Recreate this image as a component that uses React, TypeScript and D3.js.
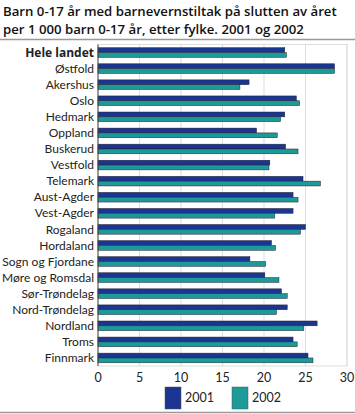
import React from "react";
import * as d3 from "d3";

const categories = ["Hele landet","Østfold","Akershus","Oslo","Hedmark","Oppland","Buskerud","Vestfold","Telemark","Aust-Agder","Vest-Agder","Rogaland","Hordaland","Sogn og Fjordane","Møre og Romsdal","Sør-Trøndelag","Nord-Trøndelag","Nordland","Troms","Finnmark"];
const v2001 = [22.5,28.5,18.2,23.9,22.5,19.1,22.6,20.7,24.7,23.5,23.5,25.0,20.9,18.3,20.1,22.1,22.8,26.4,23.5,25.3];
const v2002 = [22.7,28.5,17.1,24.3,22.0,21.6,24.1,20.6,26.8,24.1,21.3,24.4,21.4,20.2,21.8,22.8,21.5,24.8,24.0,25.9];
const seriesNames = ["2001","2002"];
const colors = ["#1b3593","#1c9a97"];
const xTicks = [0,5,10,15,20,25,30];

export default function App() {
  const W = 355, H = 414;
  const left = 98, right = 347, top = 44.5, bottom = 366;
  const x = d3.scaleLinear().domain([0,30]).range([left,right]);
  const y = d3.scaleBand<string>().domain(categories).range([top,bottom]).paddingInner(0.4).paddingOuter(0.2);
  const sub = d3.scaleBand<string>().domain(seriesNames).range([0,y.bandwidth()]);
  const font = "'Open Sans', sans-serif";
  const lab = "Lato, sans-serif";
  const series = [v2001, v2002];
  return (
    <svg width={W} height={H} style={{position:"absolute",left:0,top:0}} fontFamily={font}>
      <rect width={W} height={H} fill="#fff"/>
      <text x={3} y={16} fontSize={13.2} fontWeight={600} fill="#111">Barn 0-17 år med barnevernstiltak på slutten av året</text>
      <text x={3} y={34} fontSize={13.2} fontWeight={600} fill="#111">per 1 000 barn 0-17 år, etter fylke. 2001 og 2002</text>
      <line x1={0} x2={W} y1={39.5} y2={39.5} stroke="#999" strokeWidth={1.5}/>
      <rect x={left} y={top} width={right-left} height={bottom-top} fill="none" stroke="#ddd"/>
      {xTicks.slice(1).map(t => (
        <line key={t} x1={x(t)} x2={x(t)} y1={top} y2={bottom} stroke="#ddd"/>
      ))}
      {categories.map((c, i) => (
        <g key={c}>
          {series.map((s, k) => (
            <rect key={k} x={x(0)} y={(y(c) as number) + (sub(seriesNames[k]) as number)} width={x(s[i]) - x(0)} height={sub.bandwidth()} fill={colors[k]} stroke="#223" strokeWidth={0.5}/>
          ))}
          <text x={left-4} y={(y(c) as number) + y.bandwidth()/2} dy="0.35em" textAnchor="end" fontFamily={i===0?font:lab} fontSize={i===0?12:12} fontWeight={i===0?700:400} fill="#222">{c}</text>
        </g>
      ))}
      <line x1={left} x2={left} y1={top} y2={bottom} stroke="#444"/>
      {xTicks.map(t => (
        <text key={t} x={x(t)} y={382} textAnchor="middle" fontFamily={lab} fontSize={12.5} fill="#222">{t}</text>
      ))}
      {seriesNames.map((n, k) => (
        <g key={n}>
          <rect x={165 + k*67} y={387} width={16} height={22} fill={colors[k]} stroke="#555" strokeWidth={0.5}/>
          <text x={185 + k*67} y={398} dy="0.35em" fontFamily={lab} fontSize={12.5} fill="#222">{n}</text>
        </g>
      ))}
      <line x1={0} x2={W} y1={412.5} y2={412.5} stroke="#999" strokeWidth={1.5}/>
    </svg>
  );
}
